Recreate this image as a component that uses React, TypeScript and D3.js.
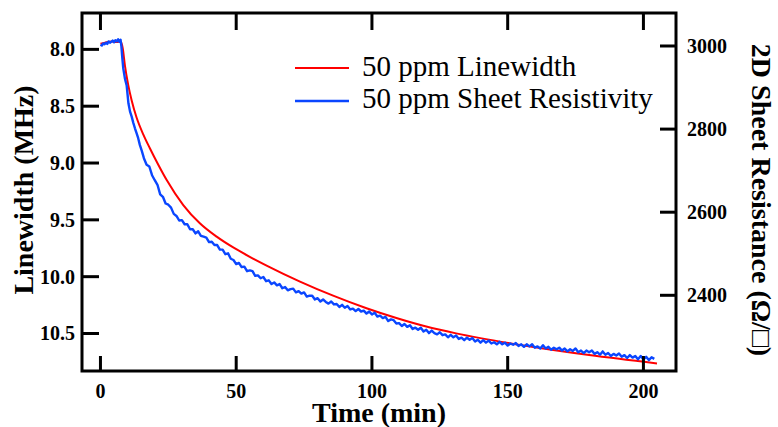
import React from "react";
import * as d3 from "d3";

const xTicks = [0, 50, 100, 150, 200];
const leftTicks = [8.0, 8.5, 9.0, 9.5, 10.0, 10.5];
const rightTicks = [2400, 2600, 2800, 3000];

const redTime = [0, 2, 4, 6, 7.5, 8.2, 9.0, 10.2, 11.5, 13.3, 15.8, 18.2, 21.3, 24.4, 30.5, 36.6, 42.8, 48.9, 55, 61.2, 73.5, 85.7, 98, 109, 120, 131, 156, 180, 205];
const redMHz = [7.95, 7.94, 7.93, 7.935, 7.93, 7.99, 8.14, 8.31, 8.45, 8.6, 8.75, 8.87, 9.015, 9.15, 9.37, 9.53, 9.648, 9.743, 9.825, 9.902, 10.043, 10.167, 10.278, 10.364, 10.439, 10.499, 10.606, 10.69, 10.763];

const blueTime = [
  0, 0.5, 1, 1.5, 2, 2.5, 3, 3.5, 4, 4.5, 5, 5.5, 6, 6.5, 7, 7.4, 7.7, 8.0, 8.4, 9.0, 9.65, 10.3, 10.9, 11.5, 12.1, 12.7, 13.3, 13.9, 14.5, 15.2,
  16, 17, 18, 19, 20, 21, 22, 23, 24, 25, 26, 27, 28, 29, 30, 31, 32, 33, 34, 35, 36, 37, 38, 39, 40, 41, 42, 43, 44, 45, 46, 47, 48, 49,
  50, 51, 52, 53, 54, 55, 56, 57, 58, 59, 60, 61, 62, 63, 64, 65, 66, 67, 68, 69, 70, 71, 72, 73, 74, 75, 76, 77, 78, 79,
  80, 81, 82, 83, 84, 85, 86, 87, 88, 89, 90, 91, 92, 93, 94, 95, 96, 97, 98, 99, 100, 101, 102, 103, 104, 105, 106, 107, 108, 109,
  110, 111, 112, 113, 114, 115, 116, 117, 118, 119, 120, 121, 122, 123, 124, 125, 126, 127, 128, 129, 130, 131, 132, 133, 134, 135, 136, 137, 138, 139,
  140, 141, 142, 143, 144, 145, 146, 147, 148, 149, 150, 151, 152, 153, 154, 155, 156, 157, 158, 159, 160, 161, 162, 163, 164, 165, 166, 167, 168, 169,
  170, 171, 172, 173, 174, 175, 176, 177, 178, 179, 180, 181, 182, 183, 184, 185, 186, 187, 188, 189, 190, 191, 192, 193, 194, 195, 196, 197, 198, 199,
  200, 201, 202, 203, 204,
];
const blueOhm = [
  3003, 3001, 3006, 3004, 3008, 3005, 3011, 3008, 3010, 3013, 3009, 3014, 3011, 3016, 3010, 3015, 3000, 2975, 2946, 2922, 2905, 2862, 2842, 2830, 2815, 2802, 2790, 2778, 2762, 2748,
  2730, 2714, 2710, 2689, 2677, 2666, 2643, 2637, 2621, 2618, 2611, 2596, 2591, 2580, 2581, 2571, 2571, 2559, 2559, 2549, 2554, 2543, 2541, 2539, 2528, 2529, 2521, 2521, 2510, 2510, 2499, 2501, 2488, 2485,
  2475, 2478, 2468, 2469, 2458, 2460, 2458, 2447, 2448, 2441, 2444, 2434, 2436, 2427, 2431, 2424, 2427, 2417, 2420, 2412, 2415, 2416, 2407, 2410, 2404, 2407, 2397, 2399, 2399, 2390,
  2393, 2385, 2390, 2384, 2380, 2385, 2378, 2379, 2372, 2377, 2370, 2374, 2366, 2368, 2362, 2367, 2361, 2363, 2356, 2361, 2354, 2358, 2349, 2351, 2345, 2348, 2338, 2342, 2340, 2332,
  2333, 2326, 2331, 2324, 2328, 2319, 2322, 2317, 2322, 2313, 2317, 2309, 2315, 2309, 2306, 2311, 2304, 2306, 2299, 2305, 2299, 2303, 2295, 2298, 2292, 2298, 2293, 2297, 2289, 2293,
  2286, 2292, 2286, 2291, 2284, 2287, 2282, 2288, 2282, 2286, 2279, 2284, 2281, 2285, 2278, 2282, 2276, 2282, 2277, 2282, 2274, 2277, 2272, 2280, 2272, 2276, 2269, 2274, 2270, 2274,
  2267, 2272, 2265, 2270, 2266, 2272, 2263, 2267, 2261, 2267, 2263, 2267, 2259, 2263, 2257, 2265, 2257, 2261, 2254, 2259, 2255, 2260, 2252, 2256, 2249, 2256, 2250, 2254, 2246, 2254,
  2246, 2252, 2244, 2251, 2247,
];

const legendLabels = ["50 ppm Linewidth", "50 ppm Sheet Resistivity"];
const RED = "#ff0000";
const BLUE = "#0a46ff";

export default function App() {
  const W = 778, H = 427;
  const L = 82, R = 676, T = 13, B = 371;
  const x = d3.scaleLinear().domain([-6.8, 212]).range([L, R]);
  const yL = d3.scaleLinear().domain([7.68, 10.83]).range([T, B]);
  const yR = d3.scaleLinear().domain([2217.8, 3079.4]).range([B, T]);

  const redLine = d3.line<number>().x((_, i) => x(redTime[i])).y((d) => yL(d)).curve(d3.curveMonotoneX)(redMHz) || "";
  const blueLine = d3.line<number>().x((_, i) => x(blueTime[i])).y((d) => yR(d))(blueOhm) || "";

  const font = "'Liberation Serif', 'Times New Roman', serif";
  const tickLen = 16;

  return (
    <svg width={W} height={H} style={{ position: "absolute", left: 0, top: 0, background: "#fff" }} fontFamily={font}>
      <rect x={0} y={0} width={W} height={H} fill="#fff" />
      <path d={redLine} fill="none" stroke={RED} strokeWidth={2} />
      <path d={blueLine} fill="none" stroke={BLUE} strokeWidth={2.4} strokeLinejoin="round" />
      <rect x={L} y={T} width={R - L} height={B - T} fill="none" stroke="#000" strokeWidth={3} />
      {xTicks.map((t) => (
        <g key={"x" + t}>
          <line x1={x(t)} x2={x(t)} y1={B} y2={B - 15} stroke="#000" strokeWidth={3} />
          <line x1={x(t)} x2={x(t)} y1={T} y2={T + 17} stroke="#000" strokeWidth={3} />
          <text x={x(t)} y={398} textAnchor="middle" fontSize={20} fontWeight="bold">{t}</text>
        </g>
      ))}
      {leftTicks.map((t) => (
        <g key={"l" + t}>
          <line x1={L} x2={L + tickLen + 1} y1={yL(t)} y2={yL(t)} stroke="#000" strokeWidth={3} />
          <text x={75} y={yL(t)} dy="0.35em" textAnchor="end" fontSize={20} fontWeight="bold">{t.toFixed(1)}</text>
        </g>
      ))}
      {rightTicks.map((t) => (
        <g key={"r" + t}>
          <line x1={R - tickLen} x2={R} y1={yR(t)} y2={yR(t)} stroke="#000" strokeWidth={3} />
          <text x={687} y={yR(t)} dy="0.35em" textAnchor="start" fontSize={20} fontWeight="bold">{t}</text>
        </g>
      ))}
      <text x={379} y={422} textAnchor="middle" fontSize={28} fontWeight="bold">Time (min)</text>
      <text transform="translate(33,190) rotate(-90)" textAnchor="middle" fontSize={28} fontWeight="bold">Linewidth (MHz)</text>
      <text transform="translate(752,200) rotate(90)" textAnchor="middle" fontSize={28} fontWeight="bold">2D Sheet Resistance (Ω/□)</text>
      <line x1={295} x2={349} y1={68} y2={68} stroke={RED} strokeWidth={2} />
      <line x1={295} x2={349} y1={101} y2={101} stroke={BLUE} strokeWidth={2.4} />
      <text x={362} y={76} fontSize={29}>{legendLabels[0]}</text>
      <text x={362} y={108} fontSize={29}>{legendLabels[1]}</text>
    </svg>
  );
}
